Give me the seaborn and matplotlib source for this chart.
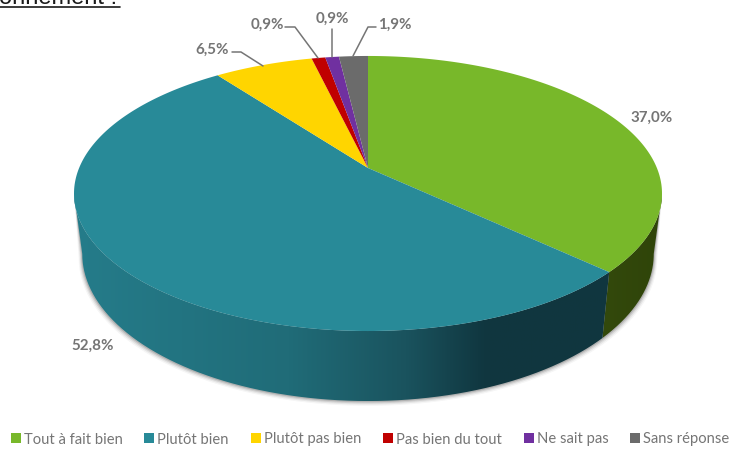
import numpy as np
import matplotlib
matplotlib.use("Agg")
import matplotlib.pyplot as plt
import seaborn as sns
from matplotlib.lines import Line2D
from matplotlib.patches import Polygon, PathPatch
from matplotlib.path import Path
from matplotlib.colors import LinearSegmentedColormap

categories = ["Tout à fait bien", "Plutôt bien", "Plutôt pas bien",
              "Pas bien du tout", "Ne sait pas", "Sans réponse"]
values = [37.0, 52.8, 6.5, 0.9, 0.9, 1.9]
labels = ["37,0%", "52,8%", "6,5%", "0,9%", "0,9%", "1,9%"]
colors = ["#78B82A", "#288A98", "#FFD500", "#C00000", "#7030A0", "#6B6B6B"]
# geometry of the perspective disc, in pixels
CX, CY, A, B, K = 368.0, 168.0, 288.9, 132.8, 0.1854
SX, SY, CYB = 0.972, 1.07, 226.6

sns.set_theme(style="white")
plt.rcParams["font.family"] = ["Lato", "DejaVu Sans"]

fig = plt.figure(figsize=(7.30, 4.49), dpi=100)
ax = fig.add_axes([0, 0, 1, 1])
ax.set_xlim(0, 730)
ax.set_ylim(449, 0)
ax.axis("off")


def top(theta):
    X, Y = np.sin(theta), np.cos(theta)
    w = 1 + K * Y
    return CX + A * X / w, CY - B * Y / w


def bottom(theta):
    X, Y = np.sin(theta), np.cos(theta)
    w = 1 + K * Y
    return CX + SX * A * X / w, CYB - SY * B * Y / w


edges = np.concatenate([[0], np.cumsum(values)]) / np.sum(values) * 2 * np.pi
t_right = np.arccos(-K)            # silhouette points of the disc
t_left = 2 * np.pi - t_right

# soft shadow
t = np.linspace(t_right, t_left, 300)
for d, al in [(6, .04), (4.5, .07), (3, .11), (1.5, .16)]:
    bx, by = bottom(t)
    tx, ty = top(t[::-1])
    ax.fill(np.r_[bx + d * np.sin(t) * .6, tx], np.r_[by + d * .8, ty],
            color="k", alpha=al, lw=0, zorder=1)

# side walls with horizontal gradients
wall_maps = {
    0: [(0, "#33490C"), (1, "#2F4409")],
    1: [(0, "#257C8A"), (0.4, "#206C78"), (0.62, "#1A535E"), (0.77, "#10363F"), (1, "#11373F")],
}
for i in (0, 1):
    t0, t1 = max(edges[i], t_right), min(edges[i + 1], t_left)
    t = np.linspace(t0, t1, 300)
    tx, ty = top(t)
    bx, by = bottom(t)
    poly = np.c_[np.r_[tx, bx[::-1]], np.r_[ty, by[::-1]]]
    patch = PathPatch(Path(np.r_[poly, poly[:1]]), fc="none", ec="none", transform=ax.transData)
    ax.add_patch(patch)
    cmap = LinearSegmentedColormap.from_list("w", wall_maps[i])
    x0, x1 = poly[:, 0].min(), poly[:, 0].max()
    y0, y1 = poly[:, 1].min(), poly[:, 1].max()
    im = ax.imshow(np.linspace(0, 1, 256)[None, :], cmap=cmap, aspect="auto",
                   extent=(x0, x1, y1, y0), zorder=2)
    im.set_clip_path(patch)
ax.set_xlim(0, 730)
ax.set_ylim(449, 0)

# top face
for i, c in enumerate(colors):
    t = np.linspace(edges[i], edges[i + 1], 200)
    x, y = top(t)
    ax.add_patch(Polygon(np.c_[np.r_[CX, x], np.r_[CY, y]], closed=True, fc=c, ec="none", zorder=3))

# labels and leader lines
lab_pos = [(652, 118), (93, 345.5), (212, 49.5), (267, 24.5), (332, 18.5), (395, 24.5)]
leaders = [None, None,
           [(232, 52), (241, 52), (263, 66)],
           [(285, 27), (295, 27), (318, 58)],
           [(332, 29), (332, 57)],
           [(376, 27), (368, 27), (353, 56)]]
lc = "#757575"
for lab, p, l in zip(labels, lab_pos, leaders):
    ax.text(p[0], p[1], lab, ha="center", va="center", fontsize=10.9,
            fontweight="bold", color="#757575", zorder=5)
    if l:
        ax.plot(*zip(*l), color=lc, lw=1.1, zorder=4)

# clipped end of the sentence above the chart
ax.text(-1, 4.5, "onnement :", fontsize=17, family="Liberation Sans",
        color="k", ha="left", va="baseline", clip_on=True)
ax.plot([0, 120], [7.2, 7.2], color="k", lw=1.2)

handles = [Line2D([], [], ls="", marker="s", ms=6.5, color=c, mew=0) for c in colors]
ax.legend(handles, categories, loc="center left", bbox_to_anchor=(6 / 730, 1 - 439.5 / 449),
          ncol=6, frameon=False, fontsize=10.6, labelcolor="#757575",
          handletextpad=-0.1, columnspacing=1.17, borderpad=0, borderaxespad=0, handlelength=1.3)

fig.savefig("out.png", dpi=100)
